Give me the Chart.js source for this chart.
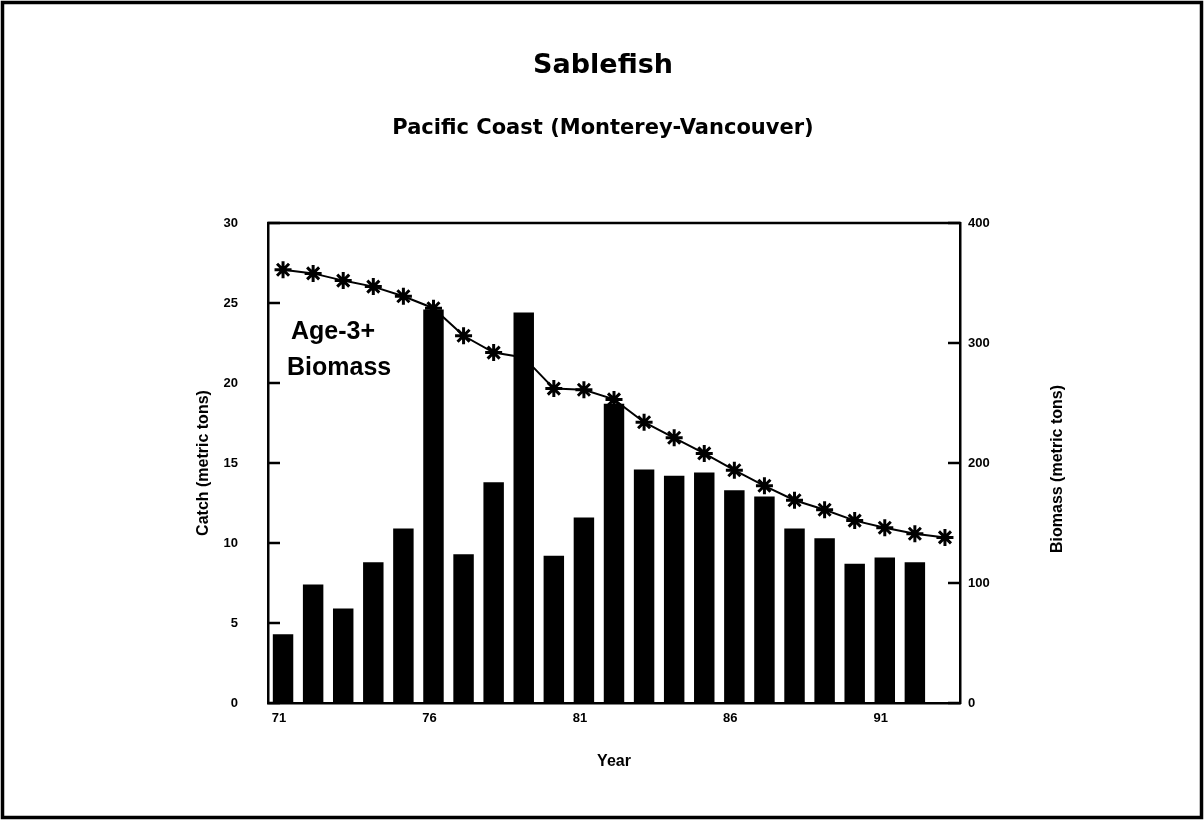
<!DOCTYPE html>
<html>
<head>
<meta charset="utf-8">
<script src="https://cdn.jsdelivr.net/npm/chart.js@4.4.1/dist/chart.umd.min.js"></script>
<style>
html,body{margin:0;padding:0;background:#fff;}
#wrap{width:1204px;height:824px;position:relative;}
</style>
</head>
<body>
<div id="wrap"><canvas id="c" width="1204" height="824"></canvas></div>
<script>
// ---- data ----
const years = ['71','72','73','74','75','76','77','78','79','80','81','82','83','84','85','86','87','88','89','90','91','92','93'];
const shownYearLabels = ['71','76','81','86','91'];
const catchValues = [4.3, 7.4, 5.9, 8.8, 10.9, 24.6, 9.3, 13.8, 24.4, 9.2, 11.6, 18.7, 14.6, 14.2, 14.4, 13.3, 12.9, 10.9, 10.3, 8.7, 9.1, 8.8, null];
const biomassValues = [361, 358, 352, 347, 339, 329, 306, 292, 288, 262, 261, 253, 234, 221, 208, 194, 181, 169, 161, 152, 146, 141, 138];
const catchTicks = [0, 5, 10, 15, 20, 25, 30];
const biomassTicks = [0, 100, 200, 300, 400];

const FONT = "'Liberation Sans', Arial, sans-serif";
const WIDE = "'DejaVu Sans', 'Liberation Sans', sans-serif";

const decor = {
  id: 'decor',
  afterDatasetsDraw(chart) {
    const {ctx, chartArea: a} = chart;
    const y = chart.scales.y, y1 = chart.scales.y1;
    ctx.save();
    ctx.strokeStyle = '#000';
    ctx.lineWidth = 2.5;
    ctx.lineCap = 'butt';
    // inward tick marks
    y.ticks.forEach(t => {
      const py = Math.round(y.getPixelForValue(t.value));
      ctx.beginPath(); ctx.moveTo(a.left, py); ctx.lineTo(a.left + 12, py); ctx.stroke();
    });
    y1.ticks.forEach(t => {
      const py = Math.round(y1.getPixelForValue(t.value));
      ctx.beginPath(); ctx.moveTo(a.right, py); ctx.lineTo(a.right - 12, py); ctx.stroke();
    });
    // top border of plot
    ctx.beginPath(); ctx.moveTo(a.left - 1, a.top); ctx.lineTo(a.right + 1, a.top); ctx.stroke();
    ctx.restore();
  },
  afterDraw(chart) {
    const {ctx, chartArea: a} = chart;
    ctx.save();
    ctx.fillStyle = '#000';
    ctx.textAlign = 'center';
    ctx.textBaseline = 'middle';
    ctx.font = 'bold 27px ' + WIDE;
    ctx.fillText('Sablefish', 603, 66);
    ctx.font = 'bold 21px ' + WIDE;
    ctx.fillText('Pacific Coast (Monterey-Vancouver)', 603, 129);
    // annotation inside plot
    ctx.font = 'bold 25px ' + FONT;
    ctx.textAlign = 'left';
    ctx.fillText('Age-3+', a.left + 23, 332);
    ctx.fillText('Biomass', a.left + 19, 368);
    // right axis title (reads bottom to top)
    ctx.font = 'bold 16px ' + FONT;
    ctx.translate(1058, (a.top + a.bottom) / 2 + 6);
    ctx.rotate(-Math.PI / 2);
    ctx.textAlign = 'center';
    ctx.fillText('Biomass (metric tons)', 0, 0);
    ctx.restore();
    // figure frame
    ctx.save();
    ctx.strokeStyle = '#000';
    ctx.lineWidth = 3.5;
    ctx.strokeRect(2.5, 2.5, 1199, 815);
    ctx.restore();
  }
};

new Chart(document.getElementById('c'), {
  data: {
    labels: years,
    datasets: [
      {
        type: 'bar',
        label: 'Catch',
        data: catchValues,
        yAxisID: 'y',
        backgroundColor: '#000',
        borderWidth: 0,
        barPercentage: 0.68,
        categoryPercentage: 1.0,
        order: 0
      },
      {
        type: 'line',
        label: 'Age-3+ Biomass',
        data: biomassValues,
        yAxisID: 'y1',
        borderColor: '#000',
        borderWidth: 2,
        backgroundColor: '#000',
        pointStyle: 'star',
        pointRadius: 8.5,
        pointBorderWidth: 3,
        pointBorderColor: '#000',
        tension: 0,
        fill: false,
        order: 1
      }
    ]
  },
  options: {
    responsive: false,
    animation: false,
    devicePixelRatio: 1,
    layout: { padding: { top: 223, bottom: 0, left: 190, right: 131 } },
    plugins: { legend: { display: false }, title: { display: false }, tooltip: { enabled: false } },
    scales: {
      x: {
        type: 'category',
        offset: true,
        grid: { display: false, drawTicks: false },
        border: { display: true, color: '#000', width: 2.5 },
        ticks: {
          autoSkip: false, maxRotation: 0, minRotation: 0,
          color: '#000', font: { family: FONT, size: 13, weight: 'bold' },
          padding: 8, labelOffset: -4,
          callback: function(v, i) { const l = this.getLabelForValue(v); return shownYearLabels.includes(l) ? l : ''; }
        },
        title: { display: true, text: 'Year', color: '#000', font: { family: FONT, size: 16, weight: 'bold' }, padding: { top: 0, bottom: 53 } },
        afterFit: s => { s.height = 121; }
      },
      y: {
        position: 'left',
        min: 0, max: 30,
        afterBuildTicks: s => { s.ticks = catchTicks.map(v => ({ value: v })); },
        grid: { display: false, drawTicks: false },
        border: { display: true, color: '#000', width: 2.5 },
        ticks: { color: '#000', font: { family: FONT, size: 13, weight: 'bold' }, padding: 30 },
        title: { display: true, text: 'Catch (metric tons)', color: '#000', font: { family: FONT, size: 16, weight: 'bold' }, padding: { top: 4, bottom: 0 } },
        afterFit: s => { s.width = 78; }
      },
      y1: {
        position: 'right',
        min: 0, max: 400,
        afterBuildTicks: s => { s.ticks = biomassTicks.map(v => ({ value: v })); },
        grid: { display: false, drawTicks: false },
        border: { display: true, color: '#000', width: 2.5 },
        ticks: { color: '#000', font: { family: FONT, size: 13, weight: 'bold' }, padding: 8 },
        afterFit: s => { s.width = 113; }
      }
    }
  },
  plugins: [decor]
});
</script>
</body>
</html>
